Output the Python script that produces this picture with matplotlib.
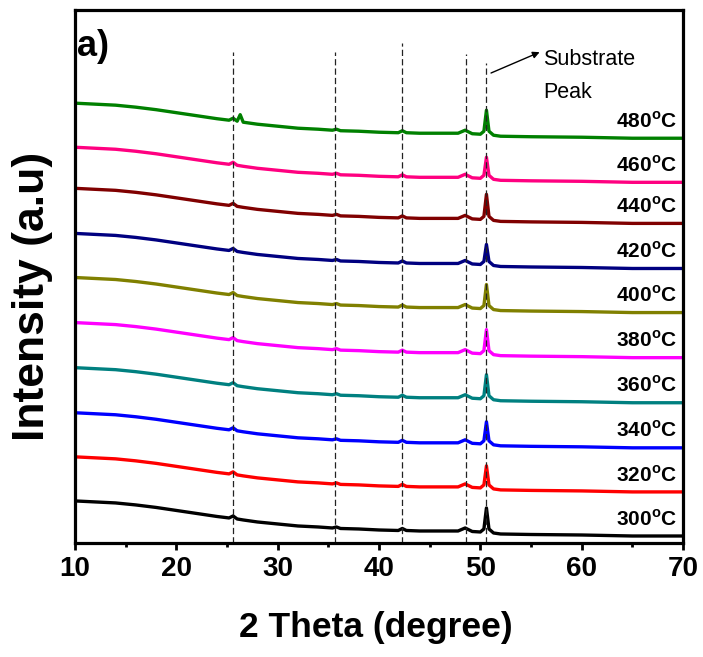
import numpy as np
import matplotlib.pyplot as plt
from matplotlib.ticker import MultipleLocator

plt.rcParams['font.family'] = ['Liberation Sans', 'DejaVu Sans']
plt.rcParams['mathtext.fontset'] = 'custom'
plt.rcParams['mathtext.rm'] = 'Liberation Sans'
plt.rcParams['mathtext.bf'] = 'Liberation Sans:bold'

# 2 theta sampling points of the scans
two_theta = [10, 12, 14, 16, 18, 20, 22, 24, 25.2, 25.6, 26.0, 26.3, 26.6, 28, 30, 32, 34,
             35.4, 35.8, 36.2, 38, 40, 41.9, 42.3, 42.7, 44, 46, 47.8, 48.5, 49.2,
             50.0, 50.35, 50.6, 50.85, 51.3, 52, 55, 60, 65, 70]

# common amorphous background (relative to the 10 deg level)
background = [0, -1, -2, -4, -6.5, -9.5, -12.5, -15.5, -17, -15, -18, -18.5, -19, -21, -23, -25, -26,
              -27, -26, -27.5, -28, -29, -29.5, -27.5, -29.5, -30, -30, -30, -27, -30.5,
              -31, -28, -31, -28, -32, -33, -33.5, -34, -35, -35]

temps = [300, 320, 340, 360, 380, 400, 420, 440, 460, 480]
offsets = [42, 86, 130, 175, 220, 265, 309, 354, 395, 439]
peak_heights = [24, 22, 22, 24, 24, 24, 20, 25, 21, 24]
colors = ['#000000', '#ff0000', '#0000ff', '#008080', '#ff00ff',
          '#808000', '#000080', '#800000', '#ff0080', '#008000']

# small extra reflection seen only in the 480 C film
extra_peak_pos = 26.3
extra_peak_height = 7

substrate_peak = 50.6
ref_lines = [25.6, 35.7, 42.3, 48.6, 50.6]
ref_tops = [490, 490, 499, 488, 479]

fig = plt.figure(figsize=(7.03, 6.57), dpi=100)
ax = fig.add_axes([0.1067, 0.1735, 0.8649, 0.8113])

x = np.array(two_theta)
bg = np.array(background)
ipk = two_theta.index(substrate_peak)
iex = two_theta.index(extra_peak_pos)

for T, off, h, c in zip(temps, offsets, peak_heights, colors):
    y = off + bg
    y[ipk] += h
    if T == 480:
        y[iex] += extra_peak_height
    ax.plot(x, y, color=c, lw=2.4, solid_joinstyle='round')
    ax.text(69.4, off + bg[-1] + 17, '%d$^{\\mathbf{o}}$C' % T,
            ha='right', va='center', fontsize=15, fontweight='bold')

for xp, top in zip(ref_lines, ref_tops):
    ax.plot([xp, xp], [0, top], color='#222222', lw=0.9, dashes=(5, 2.5))

ax.annotate('', xy=(56.1, 491), xytext=(50.8, 468),
            arrowprops=dict(arrowstyle='-|>', color='black', lw=1, mutation_scale=10))
ax.text(56.2, 477, 'Substrate', fontsize=15.5, va='baseline', fontweight='medium')
ax.text(56.2, 444, 'Peak', fontsize=15.5, va='baseline', fontweight='medium')
ax.text(10.2, 496, 'a)', fontsize=26, fontweight='bold', va='center')

ax.set_xlim(10, 70)
ax.set_ylim(0, 532)
ax.xaxis.set_major_locator(MultipleLocator(10))
ax.xaxis.set_minor_locator(MultipleLocator(5))
ax.tick_params(axis='x', which='major', direction='out', length=5, width=2,
               labelsize=20, pad=4)
ax.tick_params(axis='x', which='minor', direction='out', length=3, width=2)
ax.set_yticks([])
for lab in ax.get_xticklabels():
    lab.set_fontweight('bold')
for sp in ax.spines.values():
    sp.set_linewidth(2.3)

fig.text(0.5346, 1 - 628 / 657, '2 Theta (degree)', ha='center', va='center',
         fontsize=25.5, fontweight='bold')
fig.text(33 / 703, 1 - 296 / 657, 'Intensity (a.u)', ha='center', va='center',
         rotation=90, fontsize=32, fontweight='bold')

fig.savefig('out.png', dpi=100)
